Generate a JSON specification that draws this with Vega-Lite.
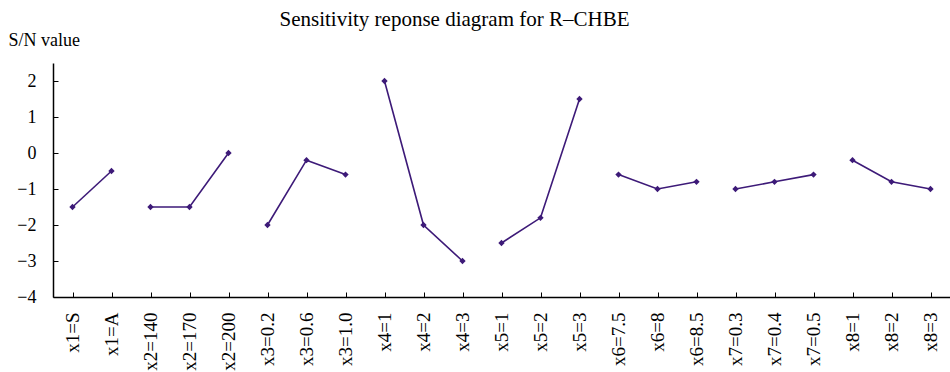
{
  "$schema": "https://vega.github.io/schema/vega-lite/v6.json",
  "autosize": {"type": "none"},
  "padding": {"left": 53, "top": 63, "right": 0, "bottom": 75},
  "width": 897,
  "height": 234,
  "title": {
    "text": "Sensitivity reponse diagram for R–CHBE",
    "font": "Liberation Serif",
    "fontSize": 21,
    "fontWeight": "normal",
    "color": "#000000",
    "anchor": "middle",
    "frame": "group",
    "dx": -47,
    "offset": 1
  },
  "config": {
    "view": {"stroke": null},
    "axis": {"grid": false, "domainColor": "#000000", "tickColor": "#000000", "labelColor": "#000000", "titleColor": "#000000", "labelFont": "Liberation Serif", "titleFont": "Liberation Serif"}
  },
  "data": {
    "values": [
      {"level": "x1=S", "factor": "x1", "sn": -1.5},
      {"level": "x1=A", "factor": "x1", "sn": -0.5},
      {"level": "x2=140", "factor": "x2", "sn": -1.5},
      {"level": "x2=170", "factor": "x2", "sn": -1.5},
      {"level": "x2=200", "factor": "x2", "sn": 0},
      {"level": "x3=0.2", "factor": "x3", "sn": -2},
      {"level": "x3=0.6", "factor": "x3", "sn": -0.2},
      {"level": "x3=1.0", "factor": "x3", "sn": -0.6},
      {"level": "x4=1", "factor": "x4", "sn": 2},
      {"level": "x4=2", "factor": "x4", "sn": -2},
      {"level": "x4=3", "factor": "x4", "sn": -3},
      {"level": "x5=1", "factor": "x5", "sn": -2.5},
      {"level": "x5=2", "factor": "x5", "sn": -1.8},
      {"level": "x5=3", "factor": "x5", "sn": 1.5},
      {"level": "x6=7.5", "factor": "x6", "sn": -0.6},
      {"level": "x6=8", "factor": "x6", "sn": -1.0},
      {"level": "x6=8.5", "factor": "x6", "sn": -0.8},
      {"level": "x7=0.3", "factor": "x7", "sn": -1.0},
      {"level": "x7=0.4", "factor": "x7", "sn": -0.8},
      {"level": "x7=0.5", "factor": "x7", "sn": -0.6},
      {"level": "x8=1", "factor": "x8", "sn": -0.2},
      {"level": "x8=2", "factor": "x8", "sn": -0.8},
      {"level": "x8=3", "factor": "x8", "sn": -1.0}
    ]
  },
  "encoding": {
    "x": {
      "field": "level",
      "type": "nominal",
      "sort": null,
      "scale": {"paddingInner": 0, "paddingOuter": 0},
      "axis": {
        "title": null,
        "labelAngle": -90,
        "labelAlign": "right",
        "labelBaseline": "middle",
        "labelFontSize": 19,
        "labelPadding": 20,
        "bandPosition": 0,
        "tickSize": -5,
        "domainWidth": 1.5,
        "labelOverlap": false
      }
    },
    "y": {
      "field": "sn",
      "type": "quantitative",
      "scale": {"domain": [-4, 2.5], "nice": false},
      "axis": {
        "title": "S/N value",
        "titleAngle": 0,
        "titleAlign": "left",
        "titleBaseline": "alphabetic",
        "titleX": -45,
        "titleY": -18,
        "titleFontSize": 18,
        "titleFontWeight": "normal",
        "values": [-4, -3, -2, -1, 0, 1, 2],
        "labelFontSize": 18,
        "labelPadding": 22,
        "tickSize": -5,
        "domainWidth": 1.5
      }
    }
  },
  "layer": [
    {
      "mark": {"type": "line", "color": "#3d1a78", "strokeWidth": 1.6},
      "encoding": {"detail": {"field": "factor"}}
    },
    {
      "mark": {"type": "point", "shape": "diamond", "filled": true, "color": "#3d1a78", "opacity": 1, "size": 40}
    }
  ]
}
